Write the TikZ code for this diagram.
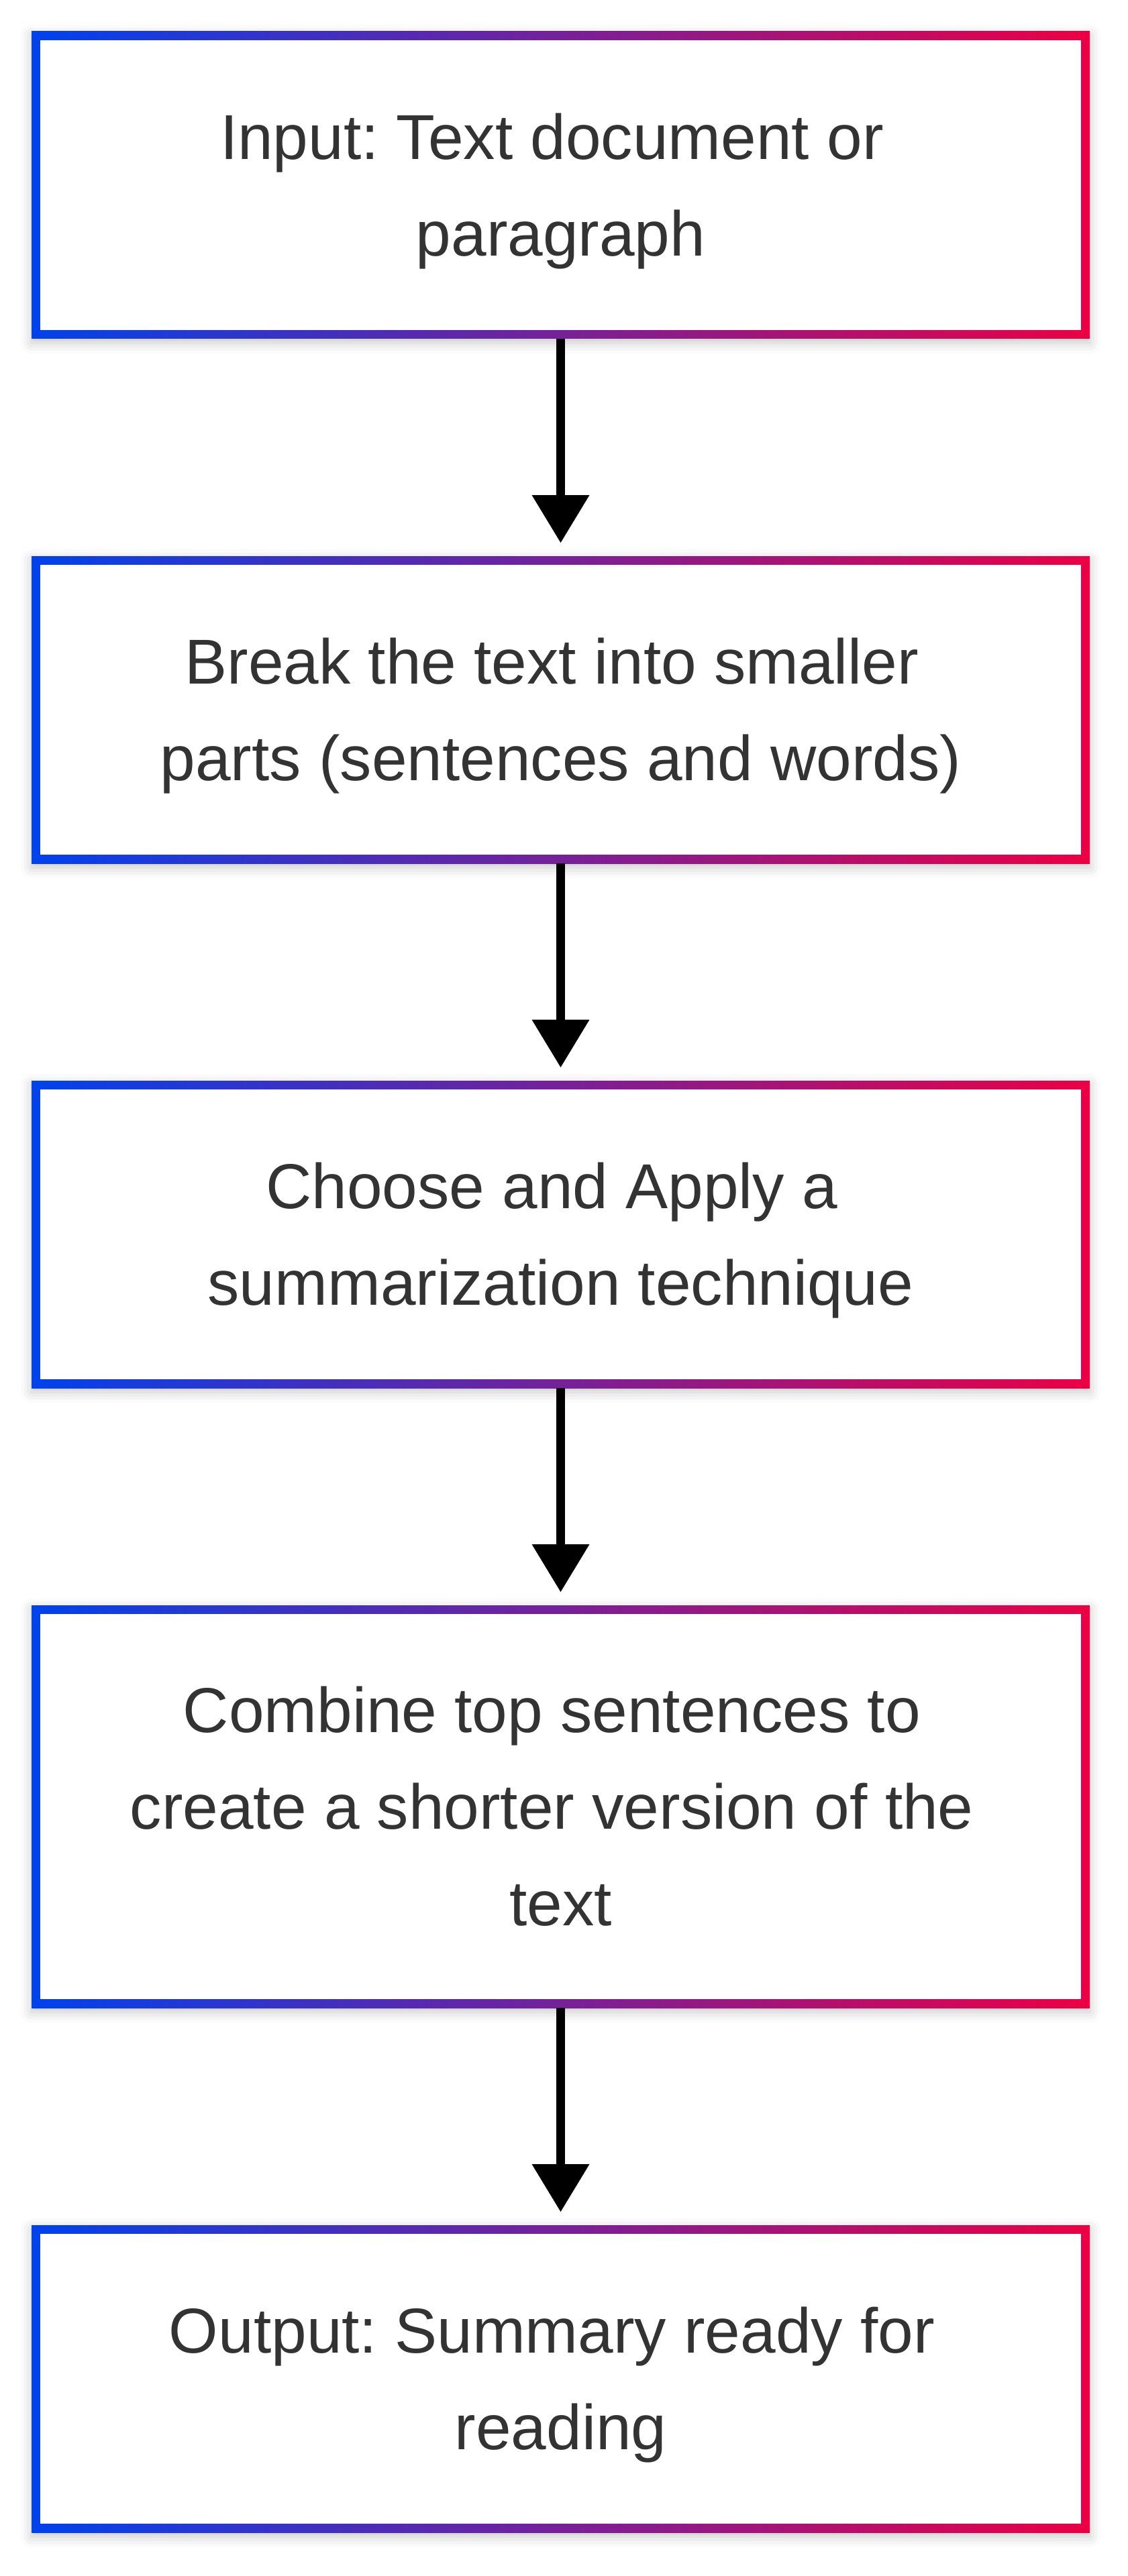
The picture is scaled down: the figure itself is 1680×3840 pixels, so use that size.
\documentclass[tikz,border=0pt]{standalone}
\usepackage{fontspec}
\setmainfont{Liberation Sans}
\usetikzlibrary{arrows.meta,shadows.blur,backgrounds}
\definecolor{cb}{RGB}{0,66,237}
\definecolor{cr}{RGB}{236,0,68}
\definecolor{txt}{HTML}{333333}
\frenchspacing
\newcommand\lnstrut{\rule[-9.65pt]{0pt}{36pt}}
\newcommand\trsp{\rule{0.278em}{0pt}}
\tikzset{
  stepbox/.style={inner sep=0pt, outer sep=0pt, minimum width=394.25pt,
    minimum height=114.5pt, align=center, text=txt,
    font=\fontsize{23.65pt}{36pt}\selectfont},
  conn/.style={line width=3.25pt, draw=black,
    -{Triangle[length=17.75pt,width=21.5pt,line width=0pt]}, shorten >=5pt},
}
\begin{document}
\begin{tikzpicture}[x=0.25pt,y=-0.25pt]
\useasboundingbox (0,0) rectangle (1680,3840);
\node[stepbox] (b1) at (835.5,276) {\lnstrut Input: Text document or\trsp\\\lnstrut paragraph};
\node[stepbox] (b2) at (835.5,1058) {\lnstrut Break the text into smaller\trsp\\\lnstrut parts (sentences and words)};
\node[stepbox] (b3) at (835.5,1840) {\lnstrut Choose and Apply a\trsp\\\lnstrut summarization technique};
\node[stepbox, minimum height=150pt] (b4) at (835.5,2693) {\lnstrut Combine top sentences to\trsp\\\lnstrut create a shorter version of the\trsp\\\lnstrut text};
\node[stepbox] (b5) at (835.5,3546) {\lnstrut Output: Summary ready for\trsp\\\lnstrut reading};
\begin{scope}[on background layer]
\foreach \n in {b1,b2,b3,b4,b5}{
  \shade[left color=cb, right color=cr,
    blur shadow={shadow xshift=0pt, shadow yshift=-1.5pt, shadow blur radius=4pt, shadow opacity=22}]
    (\n.north west) rectangle (\n.south east);
  \fill[white] ([xshift=3.25pt,yshift=-3.25pt]\n.north west) rectangle ([xshift=-3.25pt,yshift=3.25pt]\n.south east);
}
\end{scope}
\draw[conn] (b1.south) -- (b2.north);
\draw[conn] (b2.south) -- (b3.north);
\draw[conn] (b3.south) -- (b4.north);
\draw[conn] (b4.south) -- (b5.north);
\end{tikzpicture}
\end{document}
